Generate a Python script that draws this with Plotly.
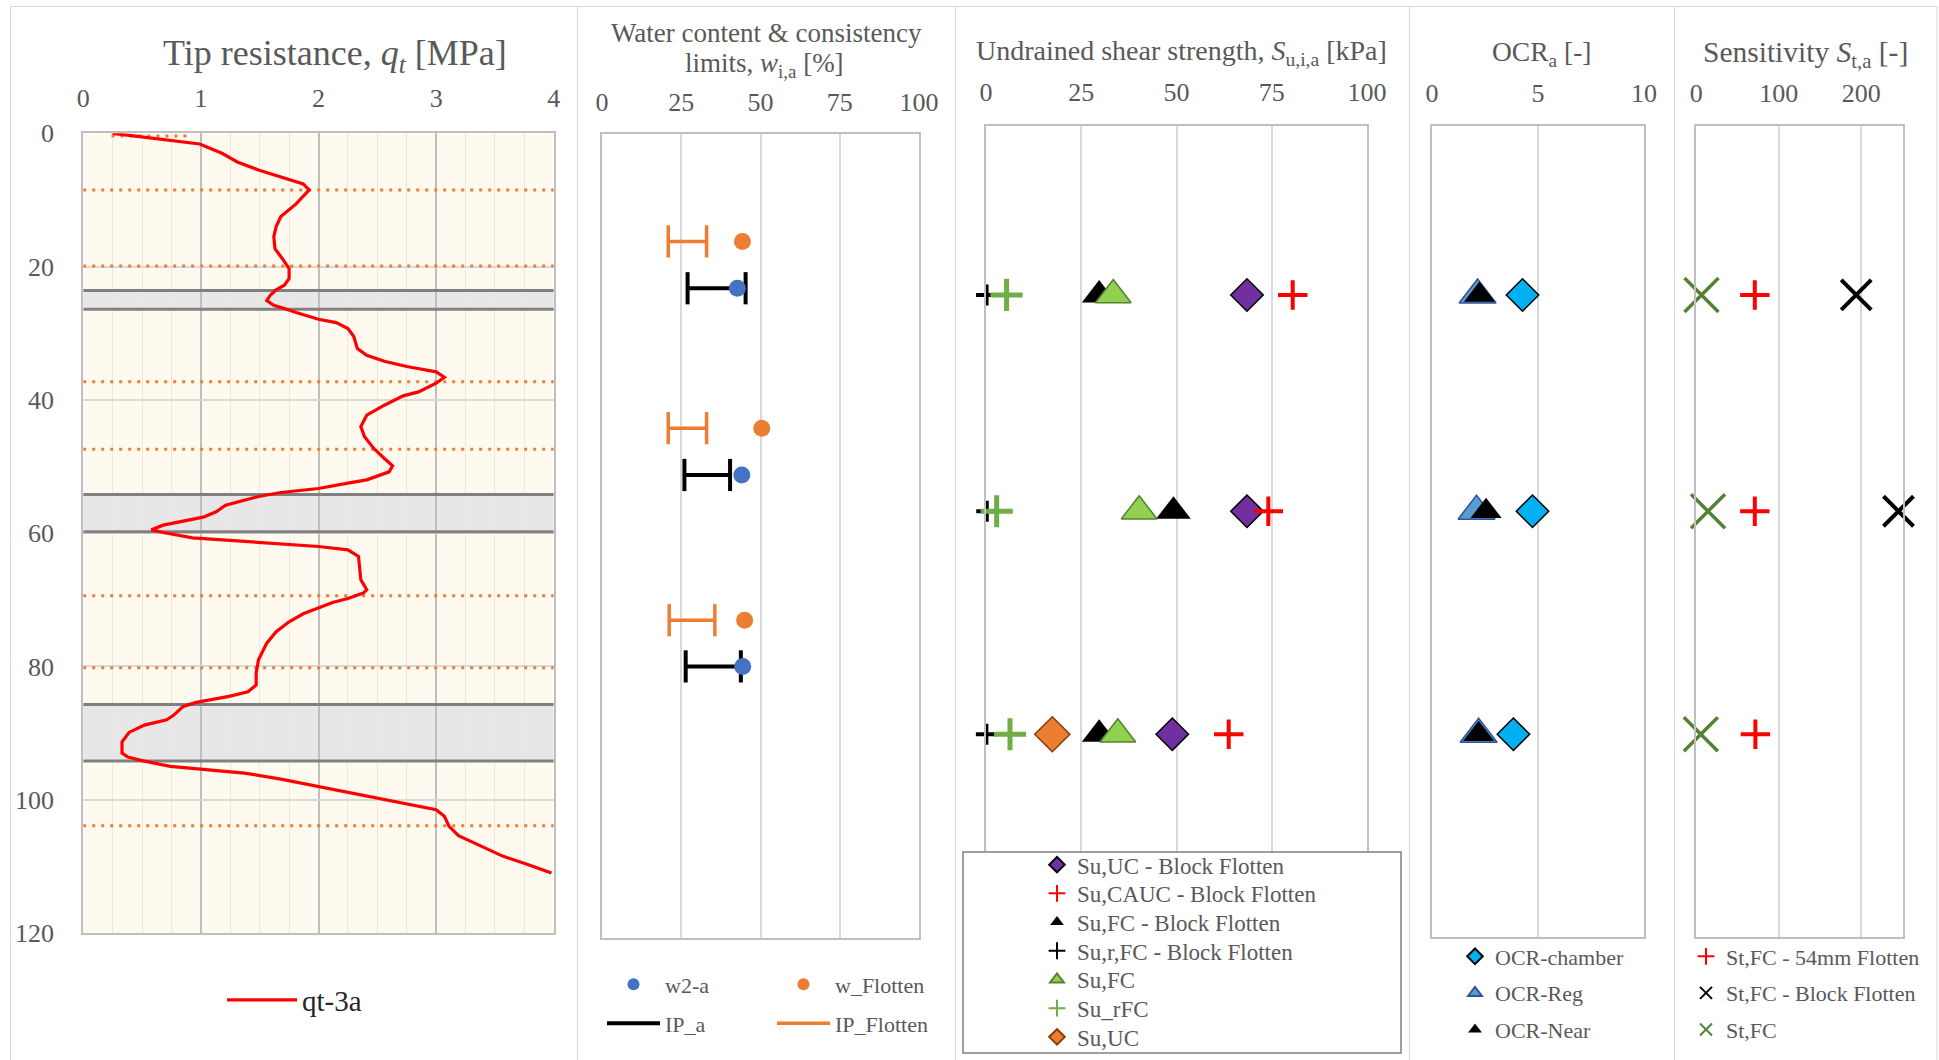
import plotly.graph_objects as go

W, H = 1939, 1060
FONT = "Liberation Serif"
TXT = "#595959"
AX_LINE = "#BFBFBF"

# ---------------- Panel 1: CPT tip resistance ----------------
qt_depth = [0.0, 0.75, 1.6, 3.0, 4.3, 5.5, 6.5, 7.6, 8.5, 10.6, 12.5, 14.0, 15.5, 17.3, 19.0,
            20.3, 21.8, 22.8, 23.5, 24.3, 25.1, 25.8, 26.3, 26.9, 27.9, 28.4, 29.3, 30.5, 32.3,
            33.3, 34.2, 35.0, 35.8, 36.6, 37.5, 38.8, 39.4, 40.8, 42.3, 44.0, 45.5, 47.3, 48.8,
            49.9, 50.8, 52.0, 52.5, 53.3, 53.9, 54.5, 55.8, 56.8, 57.6, 58.3, 58.8, 59.5, 59.9,
            60.7, 61.4, 62.0, 62.5, 63.5, 67.0, 68.5, 69.0, 69.8, 70.4, 71.2, 72.1, 73.3, 74.8,
            76.5, 79.0, 81.0, 82.8, 83.8, 84.5, 85.4, 86.0, 87.3, 88.0, 88.8, 89.9, 91.3, 93.0,
            93.6, 94.1, 95.0, 95.4, 96.0, 96.9, 98.0, 98.9, 99.8, 100.7, 101.5, 102.5, 104.0,
            105.4, 106.9, 108.5, 109.6, 111.0]
qt_mpa = [0.25, 0.61, 0.99, 1.18, 1.31, 1.49, 1.68, 1.87, 1.92, 1.81, 1.68, 1.64, 1.62, 1.63, 1.70,
          1.75, 1.75, 1.71, 1.64, 1.59, 1.56, 1.62, 1.71, 1.81, 2.00, 2.15, 2.25, 2.30, 2.33,
          2.41, 2.56, 2.75, 3.00, 3.07, 3.00, 2.85, 2.72, 2.56, 2.41, 2.36, 2.39, 2.47, 2.56,
          2.63, 2.60, 2.41, 2.25, 2.00, 1.68, 1.49, 1.21, 1.13, 1.02, 0.80, 0.68, 0.58, 0.68,
          0.93, 1.49, 2.00, 2.25, 2.34, 2.36, 2.41, 2.38, 2.25, 2.12, 2.00, 1.87, 1.75, 1.64,
          1.56, 1.49, 1.47, 1.47, 1.40, 1.24, 0.96, 0.85, 0.77, 0.71, 0.52, 0.39, 0.33, 0.33,
          0.38, 0.49, 0.74, 0.99, 1.37, 1.68, 2.00, 2.25, 2.50, 2.75, 3.00, 3.07, 3.11,
          3.19, 3.38, 3.57, 3.76, 3.98]

# sampled intervals (grey bands)
band_top = [23.6, 54.2, 85.7]
band_bot = [26.4, 59.8, 94.2]

# layer boundaries (orange dotted)
layer_depth = [0.4, 8.5, 19.9, 37.3, 47.4, 69.4, 80.2, 103.9]
layer_q_from = [0.24, 0, 0, 0, 0, 0, 0, 0]
layer_q_to = [0.9, 4, 4, 4, 4, 4, 4, 4]

# ---------------- Panel 2: water content & limits ----------------
w2a_depth = [23.0, 50.9, 79.5]
w2a = [42.7, 44.1, 44.4]
ip_a_wp = [27.0, 26.0, 26.4]
ip_a_wl = [45.3, 40.4, 43.8]

wfl_depth = [16.0, 43.9, 72.6]
w_flotten = [44.3, 50.4, 45.0]
ip_fl_wp = [20.9, 20.9, 21.2]
ip_fl_wl = [33.0, 33.0, 35.6]

# ---------------- Panel 3: undrained shear strength ----------------
su_depth = [25, 57, 90]
su_uc_block = [68.5, 68.5, 48.9]
su_cauc_block = [80.5, 74.1, 63.7]
su_fc_block = [29.7, 49.2, 29.7]
sur_fc_block = [0.15, 0.2, 0.1]
su_fc = [33.4, 40.2, 34.6]
su_rfc = [5.4, 2.8, 6.3]
su_uc_depth = [90]
su_uc = [17.4]

# ---------------- Panel 4: OCR ----------------
ocr_depth = [25, 57, 90]
ocr_chamber = [4.27, 4.74, 3.84]
ocr_reg = [2.15, 2.10, 2.20]
ocr_near = [2.24, 2.55, 2.20]

# ---------------- Panel 5: sensitivity ----------------
st_depth = [25, 57, 90]
st_fc_54mm = [70.9, 70.9, 71.6]
st_block_depth = [25, 57]
st_fc_block = [193.8, 245.0]
st_fc = [6.3, 14.2, 5.5]


def segs(x0s, x1s, ys):
    xs, yy = [], []
    for a, b, y in zip(x0s, x1s, ys):
        xs += [a, b, None]
        yy += [y, y, None]
    return xs, yy


fig = go.Figure()

# panel 1 traces
lx, ly = segs(layer_q_from, layer_q_to, layer_depth)
fig.add_trace(go.Scatter(x=lx, y=ly, mode="lines", xaxis="x", yaxis="y", showlegend=False,
                         line=dict(color="#ED7D31", width=3, dash="3px,6px"), hoverinfo="skip"))
bx, by = segs([0] * 6, [4] * 6, band_top + band_bot)
fig.add_trace(go.Scatter(x=bx, y=by, mode="lines", xaxis="x", yaxis="y", showlegend=False,
                         line=dict(color="#808080", width=3), hoverinfo="skip"))
fig.add_trace(go.Scatter(x=qt_mpa, y=qt_depth, mode="lines", name="qt-3a", xaxis="x", yaxis="y",
                         line=dict(color="#FF0000", width=3.2), legend="legend"))

# panel 2 traces
ax, ay = segs(ip_a_wp, ip_a_wl, w2a_depth)
fig.add_trace(go.Scatter(x=ax, y=ay, mode="lines", name="IP_a", xaxis="x2", yaxis="y2",
                         line=dict(color="#000000", width=4), legend="legend3"))
fig.add_trace(go.Scatter(x=ip_a_wp + ip_a_wl, y=w2a_depth * 2, mode="markers", xaxis="x2", yaxis="y2",
                         showlegend=False, cliponaxis=False,
                         marker=dict(symbol="line-ns-open", size=23, color="#000000",
                                     line=dict(color="#000000", width=4))))
fx, fy = segs(ip_fl_wp, ip_fl_wl, wfl_depth)
fig.add_trace(go.Scatter(x=fx, y=fy, mode="lines", name="IP_Flotten", xaxis="x2", yaxis="y2",
                         line=dict(color="#ED7D31", width=3.5), legend="legend3"))
fig.add_trace(go.Scatter(x=ip_fl_wp + ip_fl_wl, y=wfl_depth * 2, mode="markers", xaxis="x2", yaxis="y2",
                         showlegend=False, cliponaxis=False,
                         marker=dict(symbol="line-ns-open", size=23, color="#ED7D31",
                                     line=dict(color="#ED7D31", width=3.5))))
fig.add_trace(go.Scatter(x=w2a, y=w2a_depth, mode="markers", name="w2-a", xaxis="x2", yaxis="y2",
                         cliponaxis=False, marker=dict(color="#4472C4", size=17), legend="legend2"))
fig.add_trace(go.Scatter(x=w_flotten, y=wfl_depth, mode="markers", name="w_Flotten", xaxis="x2",
                         yaxis="y2", cliponaxis=False, marker=dict(color="#ED7D31", size=17),
                         legend="legend2"))


def mk(x, y, name, ax_id, leg, marker):
    return go.Scatter(x=x, y=y, mode="markers", name=name, xaxis="x" + ax_id, yaxis="y" + ax_id,
                      marker=marker, legend=leg, legendgroup=name, cliponaxis=False)


# panel 3 traces (one single-entry legend per series, stacked inside the boxed key)
p3 = [
    (su_uc_block, su_depth, "Su,UC - Block Flotten",
     dict(symbol="diamond", size=25, color="#7030A0", line=dict(color="#000000", width=1.5))),
    (su_cauc_block, su_depth, "Su,CAUC - Block Flotten",
     dict(symbol="cross-thin", size=21, line=dict(color="#FF0000", width=4))),
    (su_fc_block, su_depth, "Su,FC - Block Flotten",
     dict(symbol="triangle-up", size=30, color="#000000", line=dict(width=0))),
    (sur_fc_block, su_depth, "Su,r,FC - Block Flotten",
     dict(symbol="cross-thin", size=15, line=dict(color="#000000", width=4))),
    (su_fc, su_depth, "Su,FC",
     dict(symbol="triangle-up", size=31, color="#92D050", line=dict(color="#548235", width=1.5))),
    (su_rfc, su_depth, "Su_rFC",
     dict(symbol="cross-thin", size=23, line=dict(color="#70AD47", width=5))),
    (su_uc, su_uc_depth, "Su,UC",
     dict(symbol="diamond", size=27, color="#ED7D31", line=dict(color="#843C0C", width=1.5))),
]
for i, (xv, yv, name, marker) in enumerate(p3):
    fig.add_trace(mk(xv, yv, name, "3", "legend%d" % (4 + i), marker))

# panel 4 traces
fig.add_trace(mk(ocr_chamber, ocr_depth, "OCR-chamber", "4", "legend11",
                 dict(symbol="diamond", size=25, color="#00B0F0", line=dict(color="#000000", width=1.5))))
fig.add_trace(mk(ocr_reg, ocr_depth, "OCR-Reg", "4", "legend11",
                 dict(symbol="triangle-up", size=32, color="#5B9BD5", line=dict(color="#2F5597", width=1.5))))
fig.add_trace(mk(ocr_near, ocr_depth, "OCR-Near", "4", "legend11",
                 dict(symbol="triangle-up", size=27, color="#000000", line=dict(width=0))))

# panel 5 traces
fig.add_trace(mk(st_fc_54mm, st_depth, "St,FC - 54mm Flotten", "5", "legend12",
                 dict(symbol="cross-thin", size=21, line=dict(color="#FF0000", width=4))))
fig.add_trace(mk(st_fc_block, st_block_depth, "St,FC - Block Flotten", "5", "legend12",
                 dict(symbol="x-thin", size=30, line=dict(color="#000000", width=4))))
fig.add_trace(mk(st_fc, st_depth, "St,FC", "5", "legend12",
                 dict(symbol="x-thin", size=34, line=dict(color="#548235", width=3.5))))


def px(v):
    return v / W


def py(v):
    return 1 - v / H


def xaxis(x0, x1, rng, dtick, anchor, size, ticklen, gridcolor, gridwidth, minor=None):
    d = dict(domain=[px(x0), px(x1)], range=rng, dtick=dtick, tick0=0, side="top", anchor=anchor,
             showgrid=True, gridcolor=gridcolor, gridwidth=gridwidth, zeroline=False,
             showline=True, mirror=True, linecolor=AX_LINE, linewidth=2,
             ticks="outside", ticklen=ticklen, tickcolor="rgba(0,0,0,0)",
             tickfont=dict(family=FONT, size=size, color=TXT), fixedrange=True)
    if minor:
        d["minor"] = minor
    return d


def yaxis(y0, y1, anchor, labels=False):
    d = dict(domain=[py(y1), py(y0)], range=[120, 0], anchor=anchor, zeroline=False,
             showline=True, mirror=True, linecolor=AX_LINE, linewidth=2, fixedrange=True)
    if labels:
        d.update(dtick=20, tick0=0, showgrid=True, gridcolor="#D9D9D9", gridwidth=1.5,
                 ticks="outside", ticklen=22, tickcolor="rgba(0,0,0,0)",
                 tickfont=dict(family=FONT, size=26, color=TXT))
    else:
        d.update(showgrid=False, showticklabels=False)
    return d


layout = dict(
    width=W, height=H, margin=dict(l=0, r=0, t=0, b=0, autoexpand=False),
    paper_bgcolor="#FFFFFF", plot_bgcolor="#FFFFFF", showlegend=True,
    xaxis=xaxis(83.2, 553.8, [0, 4], 1, "y", 26, 14, "#BFBFBF", 1.5,
                minor=dict(dtick=0.25, showgrid=True, gridcolor="#ECE8DF", gridwidth=1)),
    yaxis=yaxis(133.3, 933, "x", labels=True),
    xaxis2=xaxis(602, 919, [0, 100], 25, "y2", 26, 10.5, "#D9D9D9", 2),
    yaxis2=yaxis(134.3, 937.5, "x2"),
    xaxis3=xaxis(986, 1367, [0, 100], 25, "y3", 26, 12.5, "#D9D9D9", 2),
    yaxis3=yaxis(126, 937, "x3"),
    xaxis4=xaxis(1432, 1644, [0, 10], 5, "y4", 26, 11.5, "#D9D9D9", 2),
    yaxis4=yaxis(126, 937, "x4"),
    xaxis5=xaxis(1696.3, 1902.6, [0, 250], 100, "y5", 26, 11.5, "#D9D9D9", 2),
    yaxis5=yaxis(126, 937, "x5"),
)

leg_font = dict(family=FONT, size=22, color=TXT)
clear = "rgba(0,0,0,0)"
layout["legend"] = dict(x=px(222), xanchor="left", y=py(1000), yanchor="middle", orientation="h",
                        itemwidth=70, bgcolor=clear,
                        font=dict(family=FONT, size=29, color="#262626"))
for key, yc in (("legend2", 984.5), ("legend3", 1023.5)):
    layout[key] = dict(x=px(602), xanchor="left", y=py(yc), yanchor="middle", orientation="h",
                       itemwidth=53, entrywidth=102, entrywidthmode="pixels",
                       itemsizing="constant" if key == "legend2" else "trace",
                       bgcolor=clear, font=leg_font)
for i, yc in enumerate([864.7, 893.4, 922.1, 950.8, 979.5, 1008.2, 1036.9]):
    layout["legend%d" % (4 + i)] = dict(x=px(1037), xanchor="left", y=py(yc), yanchor="middle",
                                        orientation="v", itemsizing="constant", bgcolor=clear,
                                        font=dict(family=FONT, size=23, color=TXT))
layout["legend11"] = dict(x=px(1455), xanchor="left", y=py(993), yanchor="middle", orientation="v",
                          itemsizing="constant", tracegroupgap=5, bgcolor=clear, font=leg_font)
layout["legend12"] = dict(x=px(1686), xanchor="left", y=py(993), yanchor="middle", orientation="v",
                          itemsizing="constant", tracegroupgap=5, bgcolor=clear, font=leg_font)

# chart frames, panel-1 background, sampled bands, boxed key of panel 3
shapes = [
    dict(type="rect", xref="paper", yref="paper", x0=px(10.5), x1=px(1937), y0=-0.02, y1=py(6.5),
         line=dict(color="#D9D9D9", width=1), fillcolor="rgba(0,0,0,0)", layer="below"),
]
for sx in [577.5, 955.5, 1409.5, 1674.5]:
    shapes.append(dict(type="line", xref="paper", yref="paper", x0=px(sx), x1=px(sx), y0=-0.02,
                       y1=py(6.5), line=dict(color="#D9D9D9", width=1), layer="below"))
shapes.append(dict(type="rect", xref="x", yref="y", x0=0, x1=4, y0=0, y1=120,
                   fillcolor="#FFFAF0", line=dict(width=0), layer="below"))
for t, b in zip(band_top, band_bot):
    shapes.append(dict(type="rect", xref="x", yref="y", x0=0, x1=4, y0=t, y1=b,
                       fillcolor="#E7E7E7", line=dict(width=0), layer="below"))
shapes.append(dict(type="rect", xref="paper", yref="paper", x0=px(963), x1=px(1401),
                   y0=py(1053), y1=py(852), fillcolor="#FFFFFF",
                   line=dict(color="#808080", width=1.5), layer="above"))
layout["shapes"] = shapes


def title(text, x, y, size):
    return dict(text=text, x=px(x), y=py(y), xref="paper", yref="paper", showarrow=False,
                xanchor="center", yanchor="middle", font=dict(family=FONT, size=size, color=TXT))


layout["annotations"] = [
    title("Tip resistance, <i>q</i><sub><i>t</i></sub> [MPa]", 335, 55, 36),
    title("Water content &amp; consistency", 766, 32.5, 27),
    title("limits, <i>w</i><sub>i,a</sub> [%]", 764, 64.5, 27),
    title("Undrained shear strength, <i>S</i><sub>u,i,a</sub> [kPa]", 1181, 52.5, 28),
    title("OCR<sub>a</sub> [-]", 1541, 54, 27.5),
    title("Sensitivity <i>S</i><sub>t,a</sub> [-]", 1805, 54, 29.5),
]

fig.update_layout(**layout)
fig.write_html("out.html")
